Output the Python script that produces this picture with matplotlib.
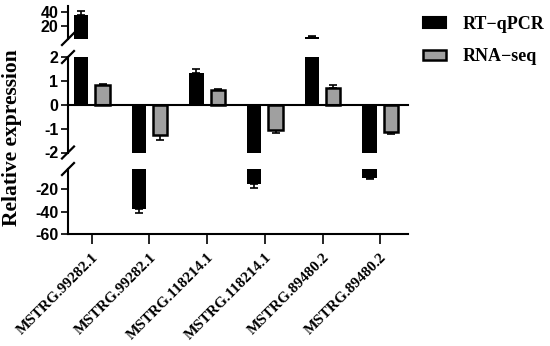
import numpy as np
import matplotlib.pyplot as plt
from matplotlib.patches import Patch
from matplotlib.lines import Line2D

genes = ["MSTRG.99282.1", "MSTRG.99282.1", "MSTRG.118214.1",
         "MSTRG.118214.1", "MSTRG.89480.2", "MSTRG.89480.2"]
rt_qpcr = [35.5, -37.5, 1.32, -15.5, 5.0, -10.0]
rt_err = [5.5, 3.5, 0.17, 3.5, 1.0, 0.5]
rna_seq = [0.82, -1.28, 0.63, -1.07, 0.70, -1.13]
rna_err = [0.06, 0.20, 0.05, 0.13, 0.12, 0.10]

serif = "Liberation Serif"
sans = "Liberation Sans"

fig = plt.figure(figsize=(5.5, 3.46), dpi=100)

# axes boxes in pixels (top, bottom) -> figure fractions
W, H = 550.0, 346.0
left, right = 68 / W, 408 / W
segs = [  # (ylim, top px, bottom px, ticks)
    ((2, 48), 6, 39, [20, 40]),
    ((-2, 2), 57, 152.5, [-2, -1, 0, 1, 2]),
    ((-60, -2), 169, 234, [-60, -40, -20]),
]

x = np.arange(len(genes))
off = 0.186
bw = 0.25
lw = 1.5


def clipped_bars(ax, xpos, vals, ylim, **kw):
    # only the part of each bar that falls inside this segment
    v = np.asarray(vals, float)
    b = np.clip(np.zeros_like(v), *ylim)
    t = np.clip(v, *ylim)
    keep = t != b
    if keep.any():
        ax.bar(xpos[keep], (t - b)[keep], bw, bottom=b[keep], **kw)


def clipped_err(ax, xpos, vals, errs, ylim):
    # one-sided error bars, only where the cap lands in this segment
    v = np.asarray(vals, float)
    e = np.asarray(errs, float)
    tip = np.where(v >= 0, v + e, v - e)
    keep = (tip >= ylim[0]) & (tip <= ylim[1])
    if not keep.any():
        return
    lo = np.where(v < 0, e, 0)[keep]
    hi = np.where(v >= 0, e, 0)[keep]
    ax.errorbar(xpos[keep], v[keep], yerr=[lo, hi], fmt="none", ecolor="black",
                elinewidth=1.2, capsize=3, capthick=1.2, zorder=1)


for i, (ylim, t, b, ticks) in enumerate(segs):
    ax = fig.add_axes([left, 1 - b / H, right - left, (b - t) / H])
    clipped_bars(ax, x - off, rt_qpcr, ylim, color="black", linewidth=0, zorder=2)
    clipped_bars(ax, x + off, rna_seq, ylim, facecolor="#a0a0a0", edgecolor="black",
                 linewidth=1.8, zorder=2)
    clipped_err(ax, x - off, rt_qpcr, rt_err, ylim)
    clipped_err(ax, x + off, rna_seq, rna_err, ylim)
    ax.set_xlim(-0.412, 5.481)
    ax.set_ylim(*ylim)
    ax.set_yticks(ticks)
    ax.set_yticklabels([str(v) for v in ticks], fontfamily=sans, fontweight="bold", fontsize=11.5)
    ax.tick_params(axis="y", length=5, width=1.2, pad=2)
    ax.spines["left"].set_linewidth(lw)
    for s in ["top", "right"]:
        ax.spines[s].set_visible(False)
    if i == 1:
        ax.spines["bottom"].set_position(("data", 0))
        ax.spines["bottom"].set_linewidth(lw)
    elif i == 0:
        ax.spines["bottom"].set_visible(False)
    else:
        ax.spines["bottom"].set_linewidth(lw)
    if i < 2:
        ax.set_xticks([])
    else:
        ax.set_xticks(x)
        ax.set_xticklabels(genes, rotation=45, ha="right", va="top", rotation_mode="anchor",
                           fontfamily=serif, fontweight="bold", fontsize=11)
        ax.tick_params(axis="x", length=7, width=1.2, pad=5)
    ax.patch.set_visible(False)

# break marks on the y axis
d = 6
for ypx in [39, 57, 152.5, 169]:
    xs = [(68 - d) / W, (68 + d) / W]
    ys = [1 - (ypx + d) / H, 1 - (ypx - d) / H]
    fig.add_artist(Line2D(xs, ys, color="black", linewidth=1.6))

fig.text(0.022, 1 - 138 / H, "Relative expression", rotation=90, ha="center", va="center",
         fontfamily=serif, fontweight="bold", fontsize=15.5)

handles = [Patch(facecolor="black", edgecolor="black", linewidth=lw),
           Patch(facecolor="#a0a0a0", edgecolor="black", linewidth=1.8)]
fig.legend(handles, ["RT\u2212qPCR", "RNA\u2212seq"], loc="upper left",
           bbox_to_anchor=(423 / W, 1 - 16 / H), frameon=False, borderpad=0,
           handlelength=1.3, handleheight=0.55, handletextpad=0.9, labelspacing=0.85,
           borderaxespad=0, prop={"family": serif, "weight": "bold", "size": 13})

fig.savefig("out.png", dpi=100)
